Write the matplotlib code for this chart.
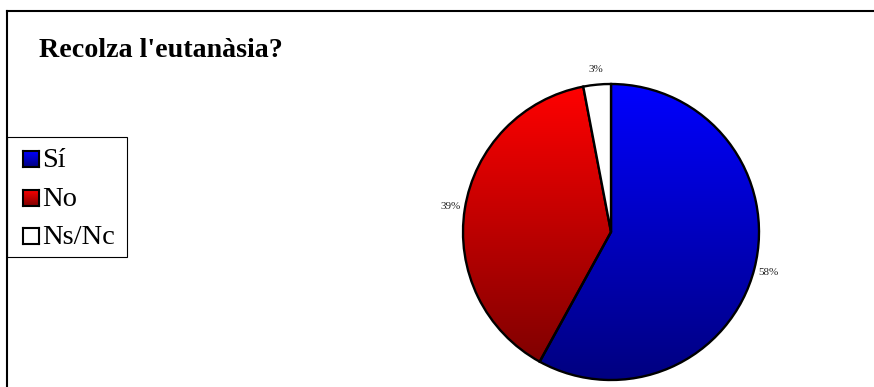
import numpy as np
import matplotlib
matplotlib.use("Agg")
import matplotlib.pyplot as plt
from matplotlib.patches import Rectangle
from matplotlib.lines import Line2D
from matplotlib.colors import to_rgb

# data
categories = ["Sí", "No", "Ns/Nc"]
values = [58, 39, 3]
pct_labels = ["58%", "39%", "3%"]
# gradient (top colour, bottom colour) for each slice; None = plain white
grad_top = ["#0000ff", "#ff0000", None]
grad_bottom = ["#000080", "#800000", None]

W, H, DPI = 874, 387, 100
plt.rcParams["font.family"] = ["Liberation Serif", "DejaVu Serif"]

fig = plt.figure(figsize=(W / DPI, H / DPI), dpi=DPI)


def px_box(x0, y0, w, h):
    # pixel box (top-left origin) -> figure fraction
    return [x0 / W, 1 - (y0 + h) / H, w / W, h / H]


def vgrad(c_top, c_bot, n=256):
    t = np.linspace(0, 1, n)[:, None, None]
    a = np.array(to_rgb(c_top))[None, None, :]
    b = np.array(to_rgb(c_bot))[None, None, :]
    return a * (1 - t) + b * t


# outer frame (top and left edges only are visible)
fig.add_artist(Line2D([7 / W, 1], [1 - 11 / H, 1 - 11 / H], color="black", lw=1.5))
fig.add_artist(Line2D([7 / W, 7 / W], [0, 1 - 11 / H], color="black", lw=1.5))

# title
fig.text(39 / W, 1 - 57 / H, "Recolza l'eutanàsia?", fontsize=20.2, fontweight="bold",
         ha="left", va="baseline")

# pie
cx, cy, r_px, half = 611, 232, 148, 175
ax = fig.add_axes(px_box(cx - half, cy - half, 2 * half, 2 * half))
wedges, _ = ax.pie(values, startangle=90, counterclock=False, radius=1,
                   colors=["white"] * len(values),
                   wedgeprops=dict(edgecolor="black", linewidth=1.7))
for w, top, bot in zip(wedges, grad_top, grad_bottom):
    w.set_zorder(3)
    if top is None:
        continue
    w.set_facecolor("none")
    bb = w.get_path().get_extents()
    im = ax.imshow(vgrad(top, bot), extent=[bb.x0, bb.x1, bb.y0, bb.y1],
                   origin="upper", aspect="auto", interpolation="bilinear", zorder=2)
    im.set_clip_path(w)

for w, lab in zip(wedges, pct_labels):
    ang = np.deg2rad((w.theta1 + w.theta2) / 2)
    d = 1.10
    ax.text(d * np.cos(ang), d * np.sin(ang), lab, fontsize=8, color="#222222",
            ha="center", va="center")

lim = half / r_px
ax.set_xlim(-lim, lim)
ax.set_ylim(-lim, lim)
ax.set_aspect("equal")
ax.axis("off")

# legend box
fig.add_artist(Rectangle((7 / W, 1 - 257 / H), 120 / W, 120 / H, transform=fig.transFigure,
                         facecolor="none", edgecolor="black", lw=0.8))
for i, (cat, top, bot) in enumerate(zip(categories, grad_top, grad_bottom)):
    sy = 151 + i * 38.5
    sax = fig.add_axes(px_box(23, sy, 16, 16))
    if top is None:
        sax.set_facecolor("white")
    else:
        sax.imshow(vgrad(top, bot, 32), aspect="auto", extent=[0, 1, 0, 1])
    sax.set_xticks([])
    sax.set_yticks([])
    for s in sax.spines.values():
        s.set_linewidth(1.5)
    fig.text(42 / W, 1 - (sy + 16.5) / H, cat, fontsize=20.5, ha="left", va="baseline")

fig.savefig("out.png", dpi=DPI)
